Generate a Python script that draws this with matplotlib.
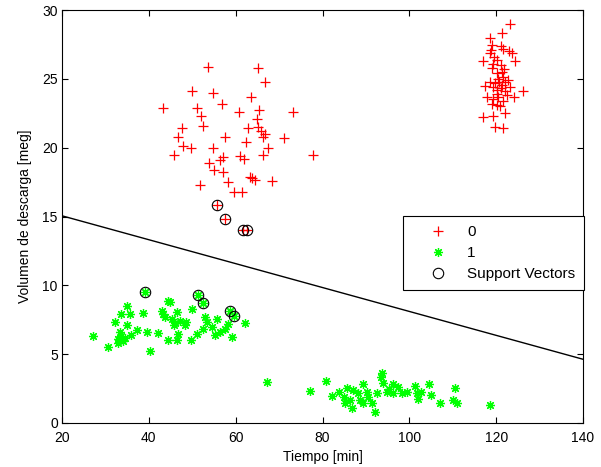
import matplotlib
matplotlib.use("Agg")
import matplotlib.pyplot as plt
import numpy as np

plt.rcParams['font.family'] = ['Liberation Sans', 'DejaVu Sans']

# Class 0 (red +)
x0 = [53.6, 65.2, 66.8, 49.9, 54.8, 63.5, 56.8, 43.2, 51.0, 60.8, 65.4, 73.1, 52.0, 64.8,
      52.5, 47.6, 62.8, 65.2, 46.8, 57.5, 66.8, 66.4, 71.1, 62.4, 47.9, 49.6, 54.8, 67.5,
      45.9, 61.0, 66.2, 77.9, 57.1, 56.4, 53.9, 55.0, 57.0, 63.7, 64.5, 68.3, 58.3, 51.8,
      59.6, 61.4, 62.0, 63.2, 65.9, 55.6, 57.6, 61.6, 62.7,
      123.3, 121.4, 118.6, 119.1, 121.0, 121.6, 118.7, 123.0, 123.6, 118.6, 117.0, 120.1,
      124.3, 119.3, 119.0, 121.3, 120.3, 121.6, 122.8, 118.6, 120.7, 122.0, 117.4, 119.3,
      121.3, 123.2, 126.2, 120.1, 122.0, 117.8, 120.5, 124.0, 119.3, 121.6, 119.0, 120.1,
      120.9, 122.0, 117.0, 119.3, 119.7, 121.6, 120.5, 121.0, 119.8, 121.8, 120.3, 122.4,
      119.6, 121.2]
y0 = [25.84, 25.8, 24.8, 24.1, 24.0, 23.7, 23.2, 22.9, 22.9, 22.6, 22.7, 22.6, 22.3, 22.1,
      21.6, 21.4, 21.4, 21.5, 20.8, 20.75, 21.0, 20.75, 20.7, 20.4, 20.1, 20.0, 20.0, 19.95,
      19.5, 19.4, 19.5, 19.5, 19.3, 19.1, 18.9, 18.4, 18.2, 17.8, 17.65, 17.6, 17.5, 17.3,
      16.8, 16.8, 19.2, 17.9, 21.2, 15.8, 14.8, 14.0, 14.0,
      29.0, 28.35, 28.0, 27.46, 27.4, 27.2, 27.1, 27.0, 26.85, 26.85, 26.3, 26.4,
      26.3, 26.1, 25.8, 25.5, 25.4, 25.15, 24.9, 24.8, 24.8, 24.8, 24.5, 24.4,
      24.55, 24.4, 24.1, 24.2, 24.1, 23.66, 23.7, 23.66, 23.5, 23.4, 23.2, 23.1,
      23.0, 22.5, 22.25, 22.3, 21.5, 21.4, 25.0, 24.3, 24.7, 25.7, 23.9, 23.8,
      26.6, 26.0]

# Class 1 (green *)
x1 = [39.1, 51.4, 52.4, 58.7, 59.6, 44.5, 44.9, 34.9, 33.7, 35.7, 38.6, 43.3, 46.4, 49.9,
      32.2, 34.9, 43.7, 45.3, 46.0, 47.2, 48.6, 52.9, 53.3, 55.6, 58.3, 62.1, 37.2, 39.6,
      42.2, 46.8, 51.0, 52.5, 54.5, 57.5, 27.2, 33.7, 33.0, 34.1, 44.3, 46.6, 49.6, 55.2,
      59.1, 30.7, 40.3, 45.8, 48.3, 56.4, 33.3, 34.5, 32.8, 36.0, 43.0,
      67.3, 77.1, 80.8, 82.1, 83.9, 84.9, 86.3, 87.1, 86.7, 88.2, 89.4, 89.4, 90.2, 91.3,
      92.1, 92.5, 93.5, 94.0, 94.8, 96.3, 96.2, 97.5, 98.2, 101.3, 101.7, 102.1, 104.6,
      105.1, 107.1, 110.1, 110.5, 111.0, 90.5, 88.6, 85.6, 99.4, 102.8, 93.6, 95.4, 85.2,
      118.6]
y1 = [9.54, 9.30, 8.74, 8.16, 7.77, 8.88, 8.77, 8.50, 7.92, 7.90, 7.97, 7.92, 8.09, 8.26,
      7.36, 7.12, 7.72, 7.53, 7.29, 7.43, 7.36, 7.72, 7.36, 7.53, 7.19, 7.29, 6.76, 6.63,
      6.56, 6.46, 6.46, 6.80, 7.0, 6.80, 6.32, 6.32, 6.08, 5.98, 6.03, 6.03, 6.03, 6.37,
      6.23, 5.50, 5.25, 7.12, 7.12, 6.63, 6.6, 6.2, 5.8, 6.4, 8.1,
      3.0, 2.32, 3.07, 1.96, 2.27, 1.87, 1.67, 2.40, 1.07, 2.16, 2.83, 1.47, 2.27, 1.43,
      0.82, 2.16, 3.32, 2.88, 2.27, 2.83, 2.16, 2.59, 2.20, 2.69, 2.16, 1.72, 2.83,
      2.03, 1.43, 1.67, 2.52, 1.43, 1.91, 1.67, 2.52, 2.27, 2.27, 3.61, 2.45, 1.43,
      1.31]

# Support vectors
xsv = [55.6, 57.6, 61.6, 62.7, 39.1, 51.4, 52.4, 58.7, 59.6]
ysv = [15.8, 14.8, 14.0, 14.0, 9.54, 9.30, 8.74, 8.16, 7.77]

# Separating line
xline = [20, 140]
yline = [15.05, 4.63]

fig = plt.figure(figsize=(6.01, 4.67), dpi=100)
ax = fig.add_axes([62/601, 1-423/467, 521/601, 413/467])

ax.plot(x0, y0, linestyle='none', marker='+', color='#ff0000', markersize=7.5,
        markeredgewidth=0.9, label='0')
ax.plot(x1, y1, linestyle='none', marker=(8, 2, 0), color='#00ff00', markersize=6.5,
        markeredgewidth=0.9, label='1')
ax.plot(xsv, ysv, linestyle='none', marker='o', markerfacecolor='none',
        markeredgecolor='black', markersize=7.5, markeredgewidth=0.8, label='Support Vectors')
ax.plot(xline, yline, color='black', linewidth=1.0)

ax.set_xlim(20, 140)
ax.set_ylim(0, 30)
ax.set_xticks([20, 40, 60, 80, 100, 120, 140])
ax.set_yticks([0, 5, 10, 15, 20, 25, 30])
ax.tick_params(direction='in', top=True, right=True, length=4, width=0.8,
               labelsize=10)
ax.tick_params(axis='x', pad=6)
ax.tick_params(axis='y', pad=3)
for s in ax.spines.values():
    s.set_linewidth(0.8)

ax.set_xlabel('Tiempo [min]', fontsize=10, labelpad=3)
ax.set_ylabel('Volumen de descarga [meg]', fontsize=10, labelpad=7)

leg = ax.legend(loc='upper left', bbox_to_anchor=(0.654, 0.324, 0.348, 0.177),
                mode='expand', frameon=True,
                fancybox=False, edgecolor='black', framealpha=1, fontsize=11,
                borderpad=0.6, handlelength=3.4, handletextpad=0.2, labelspacing=0.45,
                borderaxespad=0)
leg.get_frame().set_linewidth(0.8)

fig.savefig('out.png', dpi=100)
